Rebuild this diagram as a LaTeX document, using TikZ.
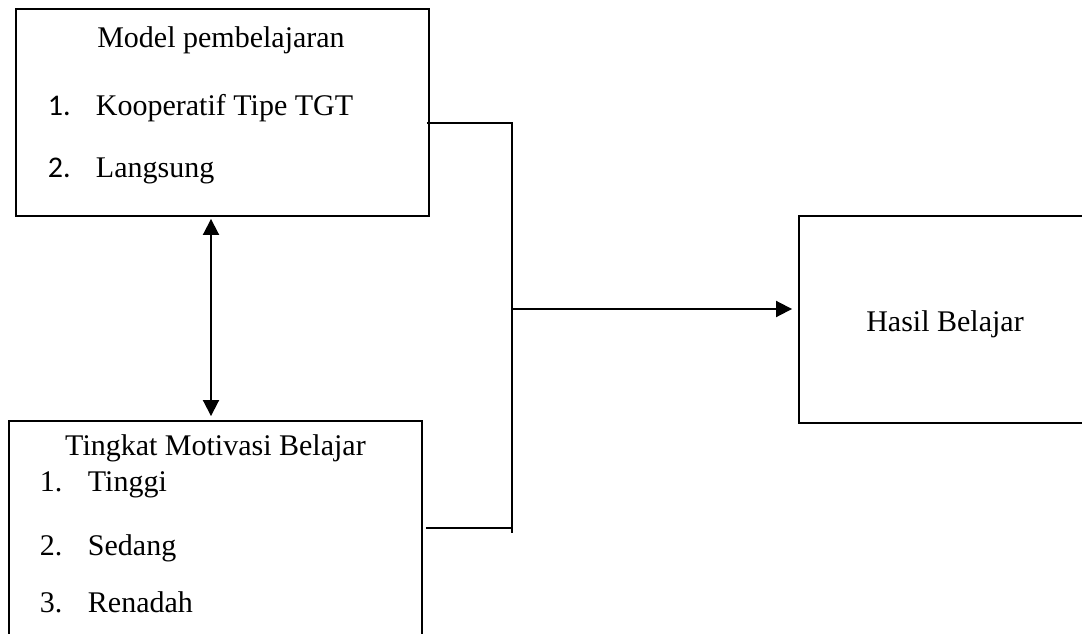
\documentclass[tikz,border=0pt]{standalone}
\usepackage{fontspec}
\setmainfont{Liberation Serif}
\newfontfamily\calibrinum{Carlito}
\usetikzlibrary{arrows.meta}

\begin{document}
\begin{tikzpicture}[x=1pt, y=-1pt, line width=1.9pt,
 >={Triangle[length=16pt,width=16pt]},
 box/.style={draw, inner sep=0pt},
 txt/.style={inner sep=0pt, anchor=base west, font=\fontsize{30}{36}\selectfont}]
\useasboundingbox (0,0) rectangle (1082,634);
\clip (0,0) rectangle (1082,634);

\node[box, minimum width=413pt, minimum height=207pt] (model) at (222.5,112.5) {};
\node[box, minimum width=413pt, minimum height=240pt] (motivasi) at (215.5,541) {};
\node[box, minimum width=311pt, minimum height=207pt] (hasil) at (954.5,319.5) {};

\node[txt, anchor=base] (mjudul) at (221,48) {Model pembelajaran};
\foreach \y/\lab [count=\i] in {115/Kooperatif Tipe TGT,177/Langsung} {
 \node[txt] (mn\i) at (47,\y) {\calibrinum \i.};
 \node[txt] (m\i) at (95,\y) {\lab};
}

\node[txt, anchor=base] (tjudul) at (215.5,455) {Tingkat Motivasi Belajar};
\foreach \y/\lab [count=\i] in {491/Tinggi,555/Sedang,612/Renadah} {
 \node[txt] (tn\i) at (39,\y) {\i.};
 \node[txt] (t\i) at (87,\y) {\lab};
}

\node[txt, anchor=base] (hjudul) at (945,331) {Hasil Belajar};

\coordinate (ja) at (512,123);
\coordinate (jb) at (512,528);
\coordinate (jm) at (512,309);
\coordinate (ax) at (211,0);

\draw ([xshift=-3pt]model.east |- ja) -- (ja) -- ++(0,410);
\draw ([xshift=3pt]motivasi.east |- jb) -- (jb);
\draw[->, shorten >=6pt] (jm) -- (hasil.west |- jm);
\draw[<->, shorten <=2pt, shorten >=4pt] (model.south -| ax) -- (motivasi.north -| ax);

\end{tikzpicture}
\end{document}
